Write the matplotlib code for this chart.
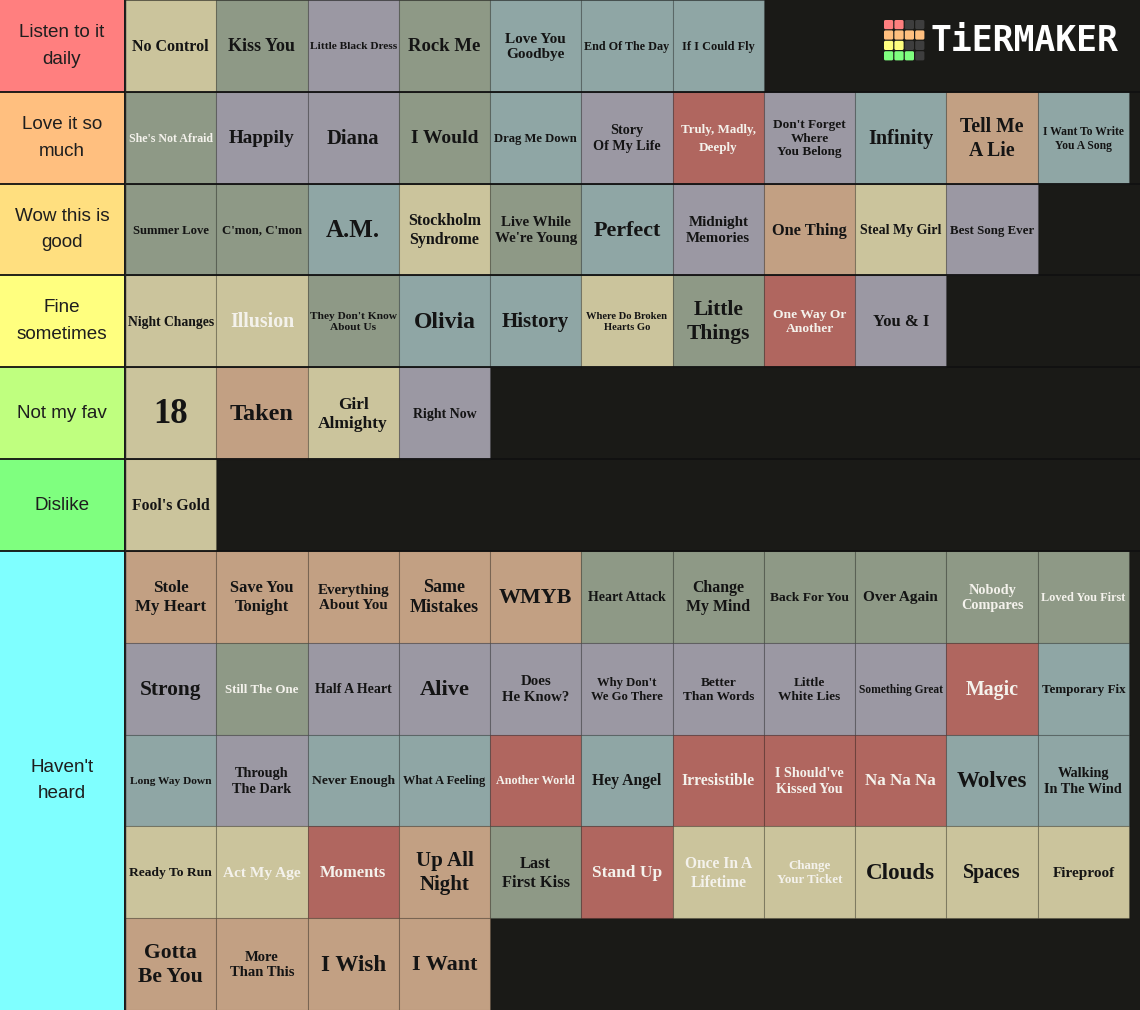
import matplotlib
matplotlib.use("Agg")
import matplotlib.pyplot as plt
from matplotlib.patches import Rectangle, FancyBboxPatch

# Tier list data
tier_labels = ["Listen to it\ndaily", "Love it so\nmuch", "Wow this is\ngood",
               "Fine\nsometimes", "Not my fav", "Dislike", "Haven't\nheard"]
tier_colors = ["#FF7F7F", "#FFBF7F", "#FFDF7F", "#FFFF7F", "#BFFF7F", "#7FFF7F", "#7FFFFF"]
tier_rows = [1, 1, 1, 1, 1, 1, 5]

tier_songs = [
    ["No Control", "Kiss You", "Little Black Dress", "Rock Me", "Love You\nGoodbye",
     "End Of The Day", "If I Could Fly"],
    ["She's Not Afraid", "Happily", "Diana", "I Would", "Drag Me Down", "Story\nOf My Life",
     "Truly, Madly,\nDeeply", "Don't Forget\nWhere\nYou Belong", "Infinity", "Tell Me\nA Lie",
     "I Want To Write\nYou A Song"],
    ["Summer Love", "C'mon, C'mon", "A.M.", "Stockholm\nSyndrome", "Live While\nWe're Young",
     "Perfect", "Midnight\nMemories", "One Thing", "Steal My Girl", "Best Song Ever"],
    ["Night Changes", "Illusion", "They Don't Know\nAbout Us", "Olivia", "History",
     "Where Do Broken\nHearts Go", "Little\nThings", "One Way Or\nAnother", "You & I"],
    ["18", "Taken", "Girl\nAlmighty", "Right Now"],
    ["Fool's Gold"],
    ["Stole\nMy Heart", "Save You\nTonight", "Everything\nAbout You", "Same\nMistakes", "WMYB",
     "Heart Attack", "Change\nMy Mind", "Back For You", "Over Again", "Nobody\nCompares",
     "Loved You First",
     "Strong", "Still The One", "Half A Heart", "Alive", "Does\nHe Know?", "Why Don't\nWe Go There",
     "Better\nThan Words", "Little\nWhite Lies", "Something Great", "Magic", "Temporary Fix",
     "Long Way Down", "Through\nThe Dark", "Never Enough", "What A Feeling", "Another World",
     "Hey Angel", "Irresistible", "I Should've\nKissed You", "Na Na Na", "Wolves",
     "Walking\nIn The Wind",
     "Ready To Run", "Act My Age", "Moments", "Up All\nNight", "Last\nFirst Kiss", "Stand Up",
     "Once In A\nLifetime", "Change\nYour Ticket", "Clouds", "Spaces", "Fireproof",
     "Gotta\nBe You", "More\nThan This", "I Wish", "I Want"],
]

# tile fill per song (be=beige, gg=grey green, lv=lavender, bl=blue grey, rd=red, tn=tan)
tier_fills = [
    ["be", "gg", "lv", "gg", "bl", "bl", "bl"],
    ["gg", "lv", "lv", "gg", "bl", "lv", "rd", "lv", "bl", "tn", "bl"],
    ["gg", "gg", "bl", "be", "gg", "bl", "lv", "tn", "be", "lv"],
    ["be", "be", "gg", "bl", "bl", "be", "gg", "rd", "lv"],
    ["be", "tn", "be", "lv"],
    ["be"],
    ["tn", "tn", "tn", "tn", "tn", "gg", "gg", "gg", "gg", "gg", "gg",
     "lv", "gg", "lv", "lv", "lv", "lv", "lv", "lv", "lv", "rd", "bl",
     "bl", "lv", "bl", "bl", "rd", "bl", "rd", "rd", "rd", "bl", "bl",
     "be", "be", "rd", "tn", "gg", "rd", "be", "be", "be", "be", "be",
     "tn", "tn", "tn", "tn"],
]

white_text = {"She's Not Afraid", "Truly, Madly,\nDeeply", "Illusion", "One Way Or\nAnother",
              "Nobody\nCompares", "Loved You First", "Still The One", "Magic", "Another World",
              "Irresistible", "I Should've\nKissed You", "Na Na Na", "Act My Age", "Moments",
              "Stand Up", "Once In A\nLifetime", "Change\nYour Ticket"}

tier_font_sizes = [
    [11.5, 13, 8.2, 13.5, 11, 8.7, 8.8],
    [8.6, 13.8, 14.8, 14, 9.1, 10.2, 9.4, 9.5, 14.5, 14.2, 8.4],
    [9.1, 9.2, 18, 11.5, 10.8, 15.8, 10.8, 11.8, 10, 9.3],
    [9.8, 14.3, 8.2, 17, 15, 7.6, 15.5, 9.7, 12],
    [25, 17.5, 12.5, 10],
    [11.3],
    [12.2, 11.8, 10.8, 13, 15.8, 10, 11.4, 9.7, 11, 10.3, 8.8,
     15.4, 9.4, 10, 16.2, 10.7, 9.1, 9.6, 9.6, 8.3, 14.3, 9.4,
     8.2, 10.3, 9.7, 8.9, 8.7, 11.3, 11.3, 10.2, 12.3, 16.6, 10.3,
     9.7, 11.1, 12, 15, 11.8, 12.5, 11.2, 9.4, 16.6, 14.4, 11,
     15.6, 10.5, 16.6, 15.9],
]

line_gap = {"Truly, Madly,\nDeeply": 1.65, "Don't Forget\nWhere\nYou Belong": 1.15}

fill_colors = {"be": "#CBC49C", "gg": "#8E9986", "lv": "#9B98A3",
               "bl": "#8FA6A5", "rd": "#B0665F", "tn": "#C2A083"}

logo_grid = [["#FF7F7F", "#FF7F7F", "#3E3E3E", "#3E3E3E"],
             ["#FFBF7F", "#FFBF7F", "#FFBF7F", "#FFBF7F"],
             ["#FFFF7F", "#FFFF7F", "#3E3E3E", "#3E3E3E"],
             ["#7FFF7F", "#7FFF7F", "#7FFF7F", "#3E3E3E"]]

W, H = 1140, 1010
BG = "#1A1A17"
label_w = 124
tile_x0 = 125
tile_w = (1129 - tile_x0) / 11
row_h = H / sum(tier_rows)

fig = plt.figure(figsize=(W / 100, H / 100), dpi=100, facecolor=BG)
ax = fig.add_axes([0, 0, 1, 1])
ax.set_xlim(0, W)
ax.set_ylim(H, 0)
ax.axis("off")
ax.add_patch(Rectangle((0, 0), W, H, facecolor=BG, edgecolor="none"))

top = 0
for label, tcol, nrows, songs, fills, sizes in zip(tier_labels, tier_colors, tier_rows,
                                                   tier_songs, tier_fills, tier_font_sizes):
    height = nrows * row_h
    ax.add_patch(Rectangle((0, top), label_w, height, facecolor=tcol, edgecolor="none"))
    ax.text(label_w / 2, top + height / 2, label, ha="center", va="center",
            fontsize=13.6, family="Liberation Sans", color="#1E1E1E", linespacing=1.75)

    for j, (song, fkey, fs) in enumerate(zip(songs, fills, sizes)):
        x = tile_x0 + (j % 11) * tile_w
        y = top + (j // 11) * row_h
        ax.add_patch(Rectangle((x, y), tile_w, row_h, facecolor=fill_colors[fkey],
                               edgecolor=(0, 0, 0, 0.15), linewidth=0.8))
        tc = "#F4F2EC" if song in white_text else "#141414"
        ax.text(x + tile_w / 2, y + row_h / 2 + 1, song, ha="center", va="center",
                fontsize=fs, family="Liberation Serif", fontweight="bold", color=tc,
                linespacing=line_gap.get(song, 1.25))

    top += height
    if top < H:
        ax.plot([0, W], [top, top], color="#111111", linewidth=1.3, solid_capstyle="butt")

# label column border
ax.plot([label_w + 0.5, label_w + 0.5], [0, H], color="#222222", linewidth=1.0)

# TierMaker logo
sq, pitch = 9.2, 10.4
for r, row in enumerate(logo_grid):
    for c, col in enumerate(row):
        ax.add_patch(FancyBboxPatch((884 + c * pitch, 20 + r * pitch), sq, sq,
                                    boxstyle="round,pad=0,rounding_size=1.5",
                                    facecolor=col, edgecolor="none"))
ax.text(931, 41, "TiERMAKER", ha="left", va="center", color="white",
        fontsize=25, fontweight="bold", family="DejaVu Sans Mono")

fig.savefig("out.png", dpi=100, facecolor=BG)
